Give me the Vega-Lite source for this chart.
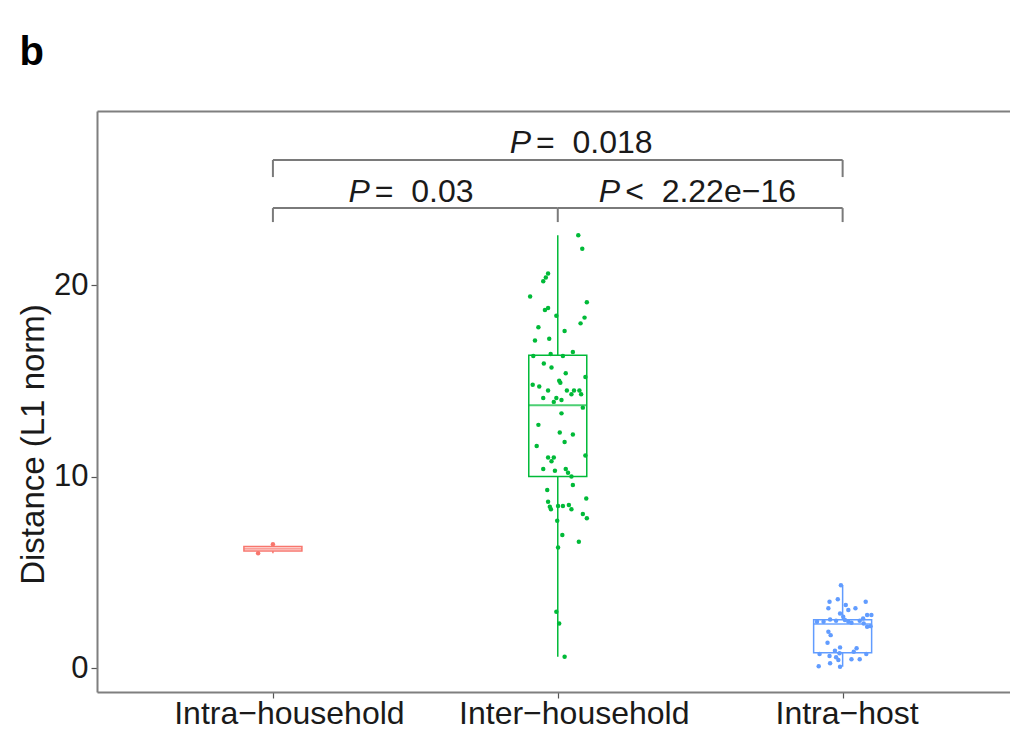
{
  "$schema": "https://vega.github.io/schema/vega-lite/v6.json",
  "width": 913,
  "height": 581,
  "autosize": {"type": "none"},
  "padding": {"left": 97, "top": 111, "right": 0, "bottom": 37},
  "background": "white",
  "title": {"text": "b", "anchor": "start", "frame": "bounds", "fontSize": 40, "fontWeight": "bold", "font": "Liberation Sans", "color": "black", "offset": 38, "dx": 2},
  "config": {
    "view": {"stroke": null},
    "font": "Liberation Sans",
    "axisY": {"labelFontSize": 31, "labelColor": "#1a1a1a", "labelPadding": 3,
      "titleFontSize": 33, "titleFontWeight": "normal", "titleColor": "#1a1a1a", "titlePadding": 3, "titleY": 333,
      "tickSize": 6, "tickColor": "#555555", "tickWidth": 1.2, "domainColor": "#7f7f7f", "domainWidth": 2, "grid": false}
  },
  "resolve": {"axis": {"x": "independent"}},
  "datasets": {
    "points": [
      {"g": "Intra−household", "x": 1.0, "d": 6.47},
      {"g": "Intra−household", "x": 0.948, "d": 5.99},
      {"g": "Inter−household", "x": 2.072, "d": 22.6},
      {"g": "Inter−household", "x": 2.086, "d": 21.9},
      {"g": "Inter−household", "x": 1.966, "d": 20.6},
      {"g": "Inter−household", "x": 1.958, "d": 20.4},
      {"g": "Inter−household", "x": 1.949, "d": 20.2},
      {"g": "Inter−household", "x": 1.903, "d": 19.4},
      {"g": "Inter−household", "x": 2.102, "d": 19.1},
      {"g": "Inter−household", "x": 1.966, "d": 18.8},
      {"g": "Inter−household", "x": 1.955, "d": 18.7},
      {"g": "Inter−household", "x": 1.995, "d": 18.4},
      {"g": "Inter−household", "x": 2.094, "d": 18.3},
      {"g": "Inter−household", "x": 2.080, "d": 18.0},
      {"g": "Inter−household", "x": 1.932, "d": 17.8},
      {"g": "Inter−household", "x": 2.024, "d": 17.6},
      {"g": "Inter−household", "x": 1.970, "d": 17.2},
      {"g": "Inter−household", "x": 1.920, "d": 17.1},
      {"g": "Inter−household", "x": 2.053, "d": 16.5},
      {"g": "Inter−household", "x": 1.975, "d": 16.4},
      {"g": "Inter−household", "x": 2.018, "d": 16.3},
      {"g": "Inter−household", "x": 1.914, "d": 16.3},
      {"g": "Inter−household", "x": 1.951, "d": 15.9},
      {"g": "Inter−household", "x": 1.978, "d": 15.7},
      {"g": "Inter−household", "x": 2.028, "d": 15.4},
      {"g": "Inter−household", "x": 2.097, "d": 15.2},
      {"g": "Inter−household", "x": 2.005, "d": 15.0},
      {"g": "Inter−household", "x": 2.009, "d": 14.9},
      {"g": "Inter−household", "x": 1.912, "d": 14.8},
      {"g": "Inter−household", "x": 1.935, "d": 14.7},
      {"g": "Inter−household", "x": 1.966, "d": 14.5},
      {"g": "Inter−household", "x": 2.032, "d": 14.5},
      {"g": "Inter−household", "x": 2.057, "d": 14.5},
      {"g": "Inter−household", "x": 2.076, "d": 14.5},
      {"g": "Inter−household", "x": 2.048, "d": 14.3},
      {"g": "Inter−household", "x": 2.082, "d": 14.3},
      {"g": "Inter−household", "x": 1.949, "d": 14.1},
      {"g": "Inter−household", "x": 1.995, "d": 14.1},
      {"g": "Inter−household", "x": 2.013, "d": 14.0},
      {"g": "Inter−household", "x": 1.986, "d": 13.9},
      {"g": "Inter−household", "x": 2.088, "d": 13.6},
      {"g": "Inter−household", "x": 2.013, "d": 13.3},
      {"g": "Inter−household", "x": 1.932, "d": 12.7},
      {"g": "Inter−household", "x": 2.007, "d": 12.3},
      {"g": "Inter−household", "x": 2.053, "d": 12.2},
      {"g": "Inter−household", "x": 2.024, "d": 11.8},
      {"g": "Inter−household", "x": 1.926, "d": 11.6},
      {"g": "Inter−household", "x": 2.097, "d": 11.1},
      {"g": "Inter−household", "x": 1.966, "d": 11.0},
      {"g": "Inter−household", "x": 1.986, "d": 11.0},
      {"g": "Inter−household", "x": 1.978, "d": 10.8},
      {"g": "Inter−household", "x": 1.949, "d": 10.4},
      {"g": "Inter−household", "x": 1.990, "d": 10.3},
      {"g": "Inter−household", "x": 2.028, "d": 10.4},
      {"g": "Inter−household", "x": 2.036, "d": 10.2},
      {"g": "Inter−household", "x": 2.048, "d": 10.0},
      {"g": "Inter−household", "x": 2.053, "d": 9.56},
      {"g": "Inter−household", "x": 1.963, "d": 9.3},
      {"g": "Inter−household", "x": 2.100, "d": 8.86},
      {"g": "Inter−household", "x": 1.966, "d": 8.68},
      {"g": "Inter−household", "x": 1.972, "d": 8.42},
      {"g": "Inter−household", "x": 1.976, "d": 8.29},
      {"g": "Inter−household", "x": 2.001, "d": 8.46},
      {"g": "Inter−household", "x": 2.018, "d": 8.46},
      {"g": "Inter−household", "x": 2.039, "d": 8.51},
      {"g": "Inter−household", "x": 2.048, "d": 8.29},
      {"g": "Inter−household", "x": 2.088, "d": 8.04},
      {"g": "Inter−household", "x": 2.102, "d": 7.82},
      {"g": "Inter−household", "x": 1.998, "d": 7.69},
      {"g": "Inter−household", "x": 2.016, "d": 6.95},
      {"g": "Inter−household", "x": 2.074, "d": 6.6},
      {"g": "Inter−household", "x": 2.001, "d": 6.3},
      {"g": "Inter−household", "x": 1.995, "d": 2.94},
      {"g": "Inter−household", "x": 2.005, "d": 2.33},
      {"g": "Inter−household", "x": 2.024, "d": 0.59},
      {"g": "Intra−host", "x": 2.994, "d": 4.33},
      {"g": "Intra−host", "x": 2.983, "d": 3.59},
      {"g": "Intra−host", "x": 2.954, "d": 3.46},
      {"g": "Intra−host", "x": 3.011, "d": 3.29},
      {"g": "Intra−host", "x": 3.081, "d": 3.46},
      {"g": "Intra−host", "x": 2.950, "d": 3.12},
      {"g": "Intra−host", "x": 3.045, "d": 3.12},
      {"g": "Intra−host", "x": 3.020, "d": 3.03},
      {"g": "Intra−host", "x": 2.991, "d": 2.85},
      {"g": "Intra−host", "x": 3.002, "d": 2.68},
      {"g": "Intra−host", "x": 3.086, "d": 2.77},
      {"g": "Intra−host", "x": 3.101, "d": 2.77},
      {"g": "Intra−host", "x": 3.072, "d": 2.59},
      {"g": "Intra−host", "x": 2.910, "d": 2.42},
      {"g": "Intra−host", "x": 2.933, "d": 2.42},
      {"g": "Intra−host", "x": 2.956, "d": 2.54},
      {"g": "Intra−host", "x": 2.977, "d": 2.47},
      {"g": "Intra−host", "x": 3.008, "d": 2.51},
      {"g": "Intra−host", "x": 3.020, "d": 2.42},
      {"g": "Intra−host", "x": 3.031, "d": 2.37},
      {"g": "Intra−host", "x": 3.060, "d": 2.47},
      {"g": "Intra−host", "x": 3.074, "d": 2.33},
      {"g": "Intra−host", "x": 3.086, "d": 2.16},
      {"g": "Intra−host", "x": 3.098, "d": 2.19},
      {"g": "Intra−host", "x": 2.950, "d": 1.9},
      {"g": "Intra−host", "x": 2.958, "d": 1.72},
      {"g": "Intra−host", "x": 2.947, "d": 1.32},
      {"g": "Intra−host", "x": 2.991, "d": 1.08},
      {"g": "Intra−host", "x": 2.973, "d": 0.9},
      {"g": "Intra−host", "x": 3.049, "d": 1.03},
      {"g": "Intra−host", "x": 3.039, "d": 0.85},
      {"g": "Intra−host", "x": 2.989, "d": 0.77},
      {"g": "Intra−host", "x": 2.919, "d": 0.73},
      {"g": "Intra−host", "x": 3.083, "d": 0.73},
      {"g": "Intra−host", "x": 2.954, "d": 0.63},
      {"g": "Intra−host", "x": 2.977, "d": 0.56},
      {"g": "Intra−host", "x": 3.031, "d": 0.46},
      {"g": "Intra−host", "x": 3.060, "d": 0.46},
      {"g": "Intra−host", "x": 2.916, "d": 0.1},
      {"g": "Intra−host", "x": 2.956, "d": 0.25},
      {"g": "Intra−host", "x": 2.991, "d": 0.07},
      {"g": "Intra−host", "x": 2.985, "d": 0.42}
    ],
    "boxes": [
      {"g": "Intra−household", "pos": 1, "lo": 5.99, "q1": 6.11, "med": 6.23, "q3": 6.35, "hi": 6.47},
      {"g": "Inter−household", "pos": 2, "lo": 0.59, "q1": 10.0, "med": 13.73, "q3": 16.34, "hi": 22.6},
      {"g": "Intra−host", "pos": 3, "lo": 0.07, "q1": 0.8, "med": 2.3, "q3": 2.52, "hi": 4.33}
    ],
    "brackets": [
      {"x": 1, "x2": 3, "y": 26.53, "y2": 26.53},
      {"x": 1, "x2": 1, "y": 26.53, "y2": 25.64},
      {"x": 3, "x2": 3, "y": 26.53, "y2": 25.64},
      {"x": 1, "x2": 2, "y": 24.02, "y2": 24.02},
      {"x": 1, "x2": 1, "y": 24.02, "y2": 23.29},
      {"x": 2, "x2": 2, "y": 24.02, "y2": 23.29},
      {"x": 2, "x2": 3, "y": 24.02, "y2": 24.02},
      {"x": 3, "x2": 3, "y": 24.02, "y2": 23.29}
    ],
    "labels": [
      {"x": 1.906, "y": 26.89, "p": "P", "rest": "\u00a0=\u00a0\u00a00.018"},
      {"x": 1.340, "y": 24.33, "p": "P", "rest": "\u00a0=\u00a0\u00a00.03"},
      {"x": 2.219, "y": 24.33, "p": "P", "rest": "\u00a0<\u00a0\u00a02.22e−16"}
    ]
  },
  "layer": [
    {
      "data": {"name": "boxes"},
      "mark": {"type": "rule", "strokeWidth": 1.5},
      "encoding": {
        "x": {"field": "pos", "type": "quantitative",
          "scale": {"domain": [0.4, 3.57], "nice": false, "zero": false},
          "axis": {"orient": "bottom", "values": [1, 2, 3], "title": null, "grid": false,
            "labelExpr": "datum.value == 1 ? 'Intra−household' : datum.value == 2 ? 'Inter−household' : 'Intra−host'",
            "labelFontSize": 32, "labelColor": "#1a1a1a", "labelPadding": 0, "labelFlush": false, "labelOverlap": false, "labelLimit": 0,
            "labelOffset": {"condition": {"test": "datum.value == 3", "value": 4}, "value": 16},
            "tickSize": 6, "tickColor": "#555555", "tickWidth": 1.2, "domainColor": "#7f7f7f", "domainWidth": 2}},
        "y": {"field": "lo", "type": "quantitative",
          "scale": {"domain": [-1.25, 29.09], "nice": false, "zero": false},
          "axis": {"values": [0, 10, 20]},
          "title": "Distance (L1 norm)"},
        "y2": {"field": "hi"},
        "color": {"field": "g", "type": "nominal", "legend": null,
          "scale": {"domain": ["Intra−household", "Inter−household", "Intra−host"], "range": ["#F8766D", "#00BA38", "#619CFF"]}}
      }
    },
    {
      "data": {"name": "boxes"},
      "mark": {"type": "bar", "fill": "white", "strokeWidth": 1.5, "size": 58, "orient": "vertical"},
      "encoding": {
        "x": {"field": "pos", "type": "quantitative",
          "axis": {"orient": "top", "labels": false, "ticks": false, "title": null, "grid": false, "domainColor": "#7f7f7f", "domainWidth": 2}},
        "y": {"field": "q1", "type": "quantitative"},
        "y2": {"field": "q3"},
        "stroke": {"field": "g", "type": "nominal", "legend": null,
          "scale": {"domain": ["Intra−household", "Inter−household", "Intra−host"], "range": ["#F8766D", "#00BA38", "#619CFF"]}}
      }
    },
    {
      "data": {"name": "boxes"},
      "mark": {"type": "tick", "orient": "horizontal", "size": 58, "thickness": 2},
      "encoding": {
        "x": {"field": "pos", "type": "quantitative", "axis": null},
        "y": {"field": "med", "type": "quantitative"},
        "color": {"field": "g", "type": "nominal", "legend": null}
      }
    },
    {
      "data": {"name": "points"},
      "mark": {"type": "circle", "size": 20, "opacity": 1},
      "encoding": {
        "x": {"field": "x", "type": "quantitative", "axis": null},
        "y": {"field": "d", "type": "quantitative"},
        "color": {"field": "g", "type": "nominal", "legend": null}
      }
    },
    {
      "data": {"name": "brackets"},
      "mark": {"type": "rule", "color": "#7a7a7a", "strokeWidth": 2},
      "encoding": {
        "x": {"field": "x", "type": "quantitative", "axis": null},
        "x2": {"field": "x2"},
        "y": {"field": "y", "type": "quantitative"},
        "y2": {"field": "y2"}
      }
    },
    {
      "data": {"name": "labels"},
      "mark": {"type": "text", "align": "right", "baseline": "alphabetic", "fontSize": 32, "fontStyle": "italic", "color": "#1a1a1a"},
      "encoding": {
        "x": {"field": "x", "type": "quantitative", "axis": null},
        "y": {"field": "y", "type": "quantitative"},
        "text": {"field": "p"}
      }
    },
    {
      "data": {"name": "labels"},
      "mark": {"type": "text", "align": "left", "baseline": "alphabetic", "fontSize": 32, "dx": 5, "color": "#1a1a1a"},
      "encoding": {
        "x": {"field": "x", "type": "quantitative", "axis": null},
        "y": {"field": "y", "type": "quantitative"},
        "text": {"field": "rest"}
      }
    }
  ]
}
